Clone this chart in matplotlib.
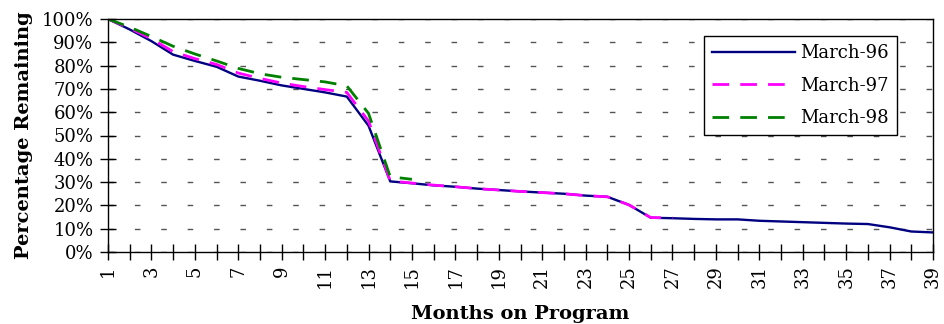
import numpy as np
import matplotlib.pyplot as plt
from matplotlib.ticker import FixedLocator, PercentFormatter

months = np.arange(1, 40)

# percentage remaining
march_96 = [100, 95.5, 90.5, 84.7, 82, 79.5, 75.3, 73.5, 71.5, 70, 68.5, 66.7,
            54.2, 30.3, 29.5, 28.6, 28, 27.2, 26.6, 26, 25.5, 25, 24.2, 23.7,
            20.2, 14.7, 14.5, 14.2, 14, 14, 13.4, 13.1, 12.8, 12.5, 12.2, 12,
            10.6, 8.8, 8.4]
march_97 = [100, 96, 91.5, 86, 83, 80.5, 76.8, 74.5, 72.5, 71, 69.7, 68.5,
            56.2, 30.5, 29.6, 28.7, 28, 27.2, 26.6, 26, 25.5, 25, 24.2, 23.7,
            20.2, 14.8, 14.6]
march_98 = [100, 96.5, 92.5, 88.3, 85, 82, 78.8, 76.5, 75, 74, 73, 71.3,
            59.5, 32.3, 31.2]

plt.rcParams['font.family'] = ['DejaVu Serif']

fig = plt.figure(figsize=(9.44, 3.24), dpi=100)
ax = fig.add_axes([108 / 944, 72 / 324, 825 / 944, 233 / 324])

ax.plot(months, march_96, color='#000080', lw=1.7, label='March-96')
ax.plot(months[:len(march_97)], march_97, color='#FF00FF', lw=2,
        dashes=(6, 4), label='March-97')
ax.plot(months[:len(march_98)], march_98, color='#008000', lw=2,
        dashes=(6, 4), label='March-98')

ax.set_xlim(1, 39)
ax.set_ylim(0, 100)
ax.xaxis.set_major_locator(FixedLocator(months))
ax.set_xticklabels([str(m) if m % 2 else '' for m in months], rotation=90,
                   fontsize=13)
ax.yaxis.set_major_locator(FixedLocator(np.arange(0, 101, 10)))
ax.yaxis.set_major_formatter(PercentFormatter(decimals=0))
ax.tick_params(axis='y', labelsize=13, pad=5)
ax.tick_params(axis='x', pad=4)
ax.tick_params(direction='inout', length=11, width=1, color='black')

ax.grid(axis='y', color='#555555', lw=1, dashes=(4, 15))
ax.set_axisbelow(True)
for side in ['left', 'bottom', 'top', 'right']:
    ax.spines[side].set_color('black')
    ax.spines[side].set_linewidth(1)

ax.set_xlabel('Months on Program', fontsize=14, fontweight='bold', labelpad=12)
ax.set_ylabel('Percentage Remaining', fontsize=14, fontweight='bold',
              labelpad=6)

leg = ax.legend(loc='upper right', bbox_to_anchor=(0.956, 0.927), fontsize=13,
                frameon=True, fancybox=False, edgecolor='black',
                framealpha=1, handlelength=4.6, borderpad=0.45,
                labelspacing=0.8, handletextpad=0.25, borderaxespad=0)
leg.get_frame().set_linewidth(1)

fig.savefig('out.png', dpi=100)
